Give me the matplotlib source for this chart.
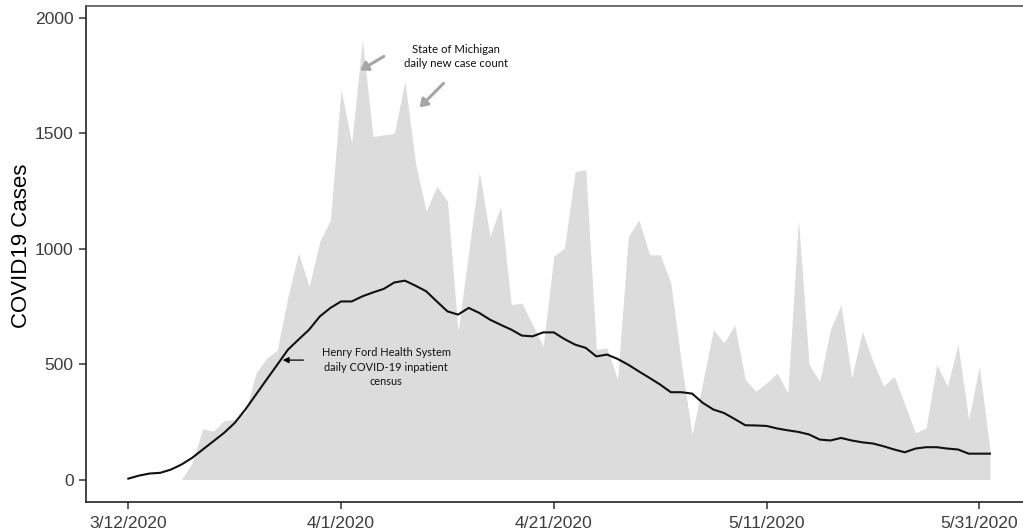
import numpy as np
import matplotlib
matplotlib.use("Agg")
import matplotlib.pyplot as plt

# ---------------- data ----------------
start_date = "2020-03-12"
n_days = 82  # 3/12/2020 .. 6/1/2020

michigan_new_cases = [
    0, 0, 0, 0, 0, 0, 72, 220, 209, 255,
    260, 290, 461, 525, 560, 790, 980, 836, 1030, 1124,
    1690, 1456, 1903, 1485, 1492, 1499, 1723, 1370, 1161, 1269,
    1204, 641, 987, 1333, 1052, 1182, 757, 764, 670, 577,
    966, 1002, 1333, 1341, 562, 570, 433, 1052, 1124, 973,
    973, 851, 500, 195, 420, 649, 591, 670, 433, 382,
    418, 461, 375, 1124, 497, 425, 649, 757, 440, 641,
    512, 404, 447, 325, 202, 224, 497, 404, 584, 260,
    490, 130,
]

hfhs_inpatient_census = [
    4, 17, 26, 29, 43, 65, 94, 130, 166, 202,
    245, 303, 368, 433, 497, 562, 606, 649, 706, 743,
    771, 771, 793, 810, 825, 853, 861, 839, 815, 771,
    728, 714, 743, 721, 692, 670, 649, 623, 620, 637,
    637, 608, 584, 570, 533, 541, 522, 497, 468, 440,
    411, 378, 378, 372, 332, 303, 288, 262, 235, 234,
    232, 221, 213, 206, 195, 173, 169, 180, 169, 161,
    156, 144, 130, 118, 134, 140, 140, 134, 130, 112,
    112, 112,
]

tick_days = [0, 20, 40, 60, 80]
tick_labels = ["3/12/2020", "4/1/2020", "4/21/2020", "5/11/2020", "5/31/2020"]
y_ticks = [0, 500, 1000, 1500, 2000]

# ---------------- figure ----------------
plt.rcParams["font.family"] = ["Liberation Sans", "DejaVu Sans"]

fig = plt.figure(figsize=(10.23, 5.31), dpi=100)
ax = fig.add_axes([0.08407, 0.05518, 0.92, 0.93352])

days = np.arange(n_days)
cases = np.array(michigan_new_cases, dtype=float)
census = np.array(hfhs_inpatient_census, dtype=float)

ax.fill_between(days, 0, cases, color="#dcdcdc", linewidth=0, zorder=1)
ax.plot(days, census, color="#111111", linewidth=1.5, zorder=3)

ax.set_xlim(-3.98, 84.5)
ax.set_ylim(-96, 2050)

ax.set_xticks(tick_days)
ax.set_xticklabels(tick_labels)
ax.set_yticks(y_ticks)
ax.set_yticklabels([str(v) for v in y_ticks])

ax.tick_params(axis="both", direction="out", length=5, width=1.1,
               color="#333333", labelsize=12.6, labelcolor="#3d3d3d")
ax.tick_params(axis="x", pad=5)
ax.tick_params(axis="y", pad=4)

for side in ["left", "bottom", "top"]:
    ax.spines[side].set_linewidth(1.2)
    ax.spines[side].set_color("#222222")
ax.spines["top"].set_color("#555555")
ax.spines["right"].set_visible(False)

ax.set_ylabel("COVID19 Cases", fontsize=16, color="black", va="center")
ax.yaxis.set_label_coords(-0.0683, 0.5158)

# ---------------- annotations ----------------
ann_font = ["Lato", "DejaVu Sans"]
ax.text(30.83, 1831, "State of Michigan\ndaily new case count", ha="center",
        va="center", fontsize=8.2, family=ann_font, color="#111111",
        linespacing=1.3, zorder=5)
gray_arrow = dict(arrowstyle="-|>,head_width=0.3,head_length=0.45",
                  color="#a6a6a6", lw=2.2, shrinkA=0, shrinkB=0)
ax.annotate("", xy=(21.8, 1771), xytext=(24.02, 1832), arrowprops=gray_arrow, zorder=5)
ax.annotate("", xy=(27.38, 1611), xytext=(29.63, 1715), arrowprops=gray_arrow, zorder=5)

ax.text(24.24, 487, "Henry Ford Health System\ndaily COVID-19 inpatient\ncensus",
        ha="center", va="center", fontsize=7.9, family=ann_font, color="#111111",
        linespacing=1.35, zorder=5)
ax.annotate("", xy=(14.52, 517), xytext=(16.46, 517),
            arrowprops=dict(arrowstyle="-|>,head_width=0.18,head_length=0.35",
                            color="black", lw=0.9, shrinkA=0, shrinkB=0), zorder=5)

fig.savefig("out.png", dpi=100)
